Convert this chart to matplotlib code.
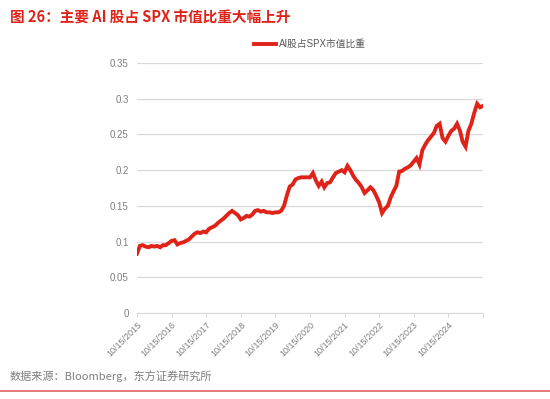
import pandas as pd
import matplotlib
matplotlib.use("Agg")
import matplotlib.pyplot as plt
from matplotlib.ticker import FuncFormatter

plt.rcParams['font.family'] = ['Liberation Sans', 'Noto Sans CJK SC', 'DejaVu Sans']

# monthly readings, starting 10/15/2015
start = "2015-10-15"
share = [
    0.083, 0.094, 0.095, 0.093, 0.092, 0.094, 0.093, 0.094, 0.092, 0.095,
    0.095, 0.098, 0.101, 0.102, 0.096, 0.098, 0.099, 0.101, 0.103, 0.107,
    0.111, 0.113, 0.112, 0.114, 0.113, 0.118, 0.120, 0.122, 0.126, 0.129,
    0.132, 0.136, 0.140, 0.143, 0.140, 0.137, 0.131, 0.133, 0.136, 0.135,
    0.138, 0.143, 0.144, 0.142, 0.143, 0.141, 0.141, 0.140, 0.141, 0.141,
    0.143, 0.150, 0.165, 0.177, 0.180, 0.187, 0.189, 0.190, 0.190, 0.190,
    0.190, 0.196, 0.186, 0.178, 0.184, 0.176, 0.182, 0.183, 0.190, 0.196,
    0.198, 0.200, 0.197, 0.206, 0.200, 0.192, 0.186, 0.182, 0.176, 0.168,
    0.172, 0.176, 0.172, 0.164, 0.155, 0.140, 0.146, 0.150, 0.162, 0.170,
    0.178, 0.198, 0.199, 0.202, 0.204, 0.207, 0.212, 0.217, 0.208, 0.228,
    0.236, 0.242, 0.247, 0.252, 0.262, 0.265, 0.245, 0.240, 0.248, 0.255,
    0.258, 0.265, 0.255, 0.240, 0.233, 0.255, 0.265, 0.280, 0.293, 0.288,
    0.290,
]
dates = pd.date_range(start, periods=len(share), freq=pd.DateOffset(months=1))
tick_years = list(range(2015, 2026))
series_name = "AI股占SPX市值比重"

grey = "#7f7f7f"
red = "#e02319"

fig = plt.figure(figsize=(5.5, 3.99), dpi=100)
ax = fig.add_axes([0.249, 0.2155, 0.629, 0.6265])

ax.plot(dates, share, color=red, lw=2.8, solid_joinstyle="miter", label=series_name)

ax.set_ylim(0, 0.35)
ax.set_yticks([0, 0.05, 0.1, 0.15, 0.2, 0.25, 0.3, 0.35])
ax.yaxis.set_major_formatter(FuncFormatter(lambda v, p: "%g" % round(v, 2)))
ax.set_xlim(pd.Timestamp("2015-10-15"), pd.Timestamp("2025-10-15"))
ticks = [pd.Timestamp(f"{y}-10-15") for y in tick_years]
ax.set_xticks(ticks)
ax.set_xticklabels([t.strftime("%m/%d/%Y") if t.year < 2025 else "" for t in ticks],
                   rotation=45, ha="right", rotation_mode="anchor")

ax.grid(axis="y", color="#d9d9d9", lw=0.9)
ax.set_axisbelow(True)
for s in ["top", "right", "left"]:
    ax.spines[s].set_visible(False)
ax.spines["bottom"].set_color("#d9d9d9")
ax.tick_params(axis="y", length=0, labelsize=7, labelcolor=grey, pad=6)
ax.tick_params(axis="x", length=3, color="#d9d9d9", labelsize=6.5, labelcolor=grey, pad=2)

ax.legend(loc="center", bbox_to_anchor=(0.5, 1.076), frameon=False,
          fontsize=7, labelcolor="#595959", handlelength=2.2, handletextpad=0.3)

fig.text(0.018, 0.975, "图 26：主要 AI 股占 SPX 市值比重大幅上升", color=red,
         fontsize=10.5, fontweight="bold", va="top", ha="left",
         family=['Noto Sans CJK SC', 'DejaVu Sans'])
fig.text(0.018, 0.058, "数据来源：Bloomberg，东方证券研究所", color=grey,
         fontsize=8, va="center", ha="left",
         family=['Noto Sans CJK SC', 'DejaVu Sans'])
fig.add_artist(plt.Line2D([0, 1], [0.02, 0.02], color="#e06666", lw=1.2,
                          transform=fig.transFigure))

fig.savefig("out.png", dpi=100)
